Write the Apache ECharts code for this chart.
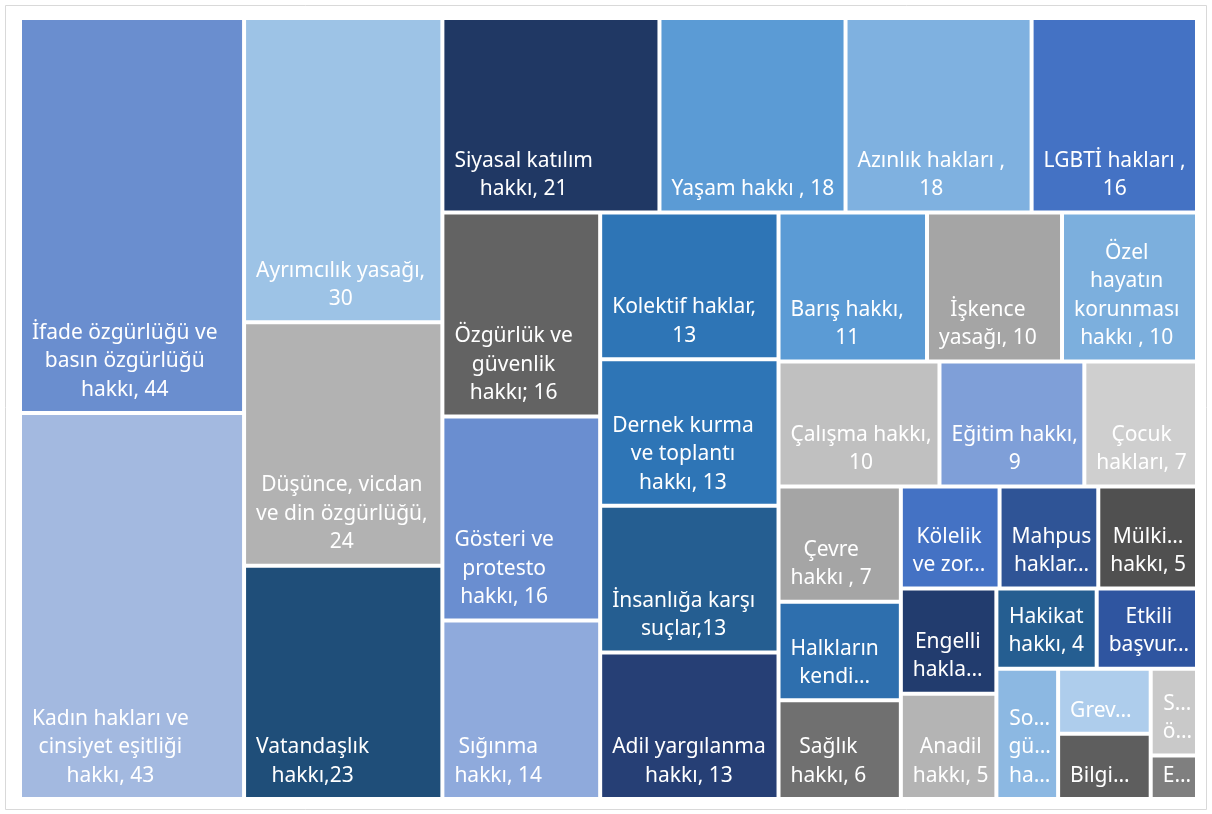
<!DOCTYPE html>
<html>
<head>
<meta charset="utf-8">
<script src="https://cdn.jsdelivr.net/npm/echarts@6/dist/echarts.min.js"></script>
<style>
  html, body { margin: 0; padding: 0; background: #fff; }
  #chart { width: 1212px; height: 814px; }
</style>
</head>
<body>
<div id="chart"></div>
<script>
// categories (full names), in the order the treemap lays them out
const names = [
  'İfade özgürlüğü ve basın özgürlüğü hakkı', 'Kadın hakları ve cinsiyet eşitliği hakkı',
  'Ayrımcılık yasağı', 'Düşünce, vicdan ve din özgürlüğü', 'Vatandaşlık hakkı',
  'Siyasal katılım hakkı', 'Yaşam hakkı', 'Azınlık hakları', 'LGBTİ hakları',
  'Özgürlük ve güvenlik hakkı', 'Gösteri ve protesto hakkı', 'Sığınma hakkı',
  'Kolektif haklar', 'Dernek kurma ve toplantı hakkı', 'İnsanlığa karşı suçlar', 'Adil yargılanma hakkı',
  'Barış hakkı', 'İşkence yasağı', 'Özel hayatın korunması hakkı',
  'Çalışma hakkı', 'Eğitim hakkı', 'Çocuk hakları',
  'Çevre hakkı', 'Halkların kendi kaderini tayin hakkı', 'Sağlık hakkı',
  'Kölelik ve zorla çalıştırma yasağı', 'Mahpus hakları', 'Mülkiyet hakkı',
  'Engelli hakları', 'Anadil hakkı', 'Hakikat hakkı', 'Etkili başvuru hakkı',
  'Sosyal güvenlik hakkı', 'Grev hakkı', 'Bilgi edinme hakkı', 'Seyahat özgürlüğü', 'Evlenme hakkı'
];

const values = [
  44, 43, 30, 24, 23, 21, 18, 18, 16, 16, 16, 14, 13, 13, 13, 13,
  11, 10, 10, 10, 9, 7, 7, 6, 6, 5, 5, 5, 5, 5, 4, 4, 4, 3, 3, 2, 1
];

// label text as it is shown in each box
const labels = [
  'İfade özgürlüğü ve\nbasın özgürlüğü\nhakkı, 44', 'Kadın hakları ve\ncinsiyet eşitliği\nhakkı, 43',
  'Ayrımcılık yasağı,\n30', 'Düşünce, vicdan\nve din özgürlüğü,\n24', 'Vatandaşlık\nhakkı,23',
  'Siyasal katılım\nhakkı, 21', 'Yaşam hakkı , 18', 'Azınlık hakları ,\n18', 'LGBTİ hakları ,\n16',
  'Özgürlük ve\ngüvenlik\nhakkı; 16', 'Gösteri ve\nprotesto\nhakkı, 16', 'Sığınma\nhakkı, 14',
  'Kolektif haklar,\n13', 'Dernek kurma\nve toplantı\nhakkı, 13', 'İnsanlığa karşı\nsuçlar,13', 'Adil yargılanma\nhakkı, 13',
  'Barış hakkı,\n11', 'İşkence\nyasağı, 10', 'Özel\nhayatın\nkorunması\nhakkı , 10',
  'Çalışma hakkı,\n10', 'Eğitim hakkı,\n9', 'Çocuk\nhakları, 7',
  'Çevre\nhakkı , 7', 'Halkların\nkendi…', 'Sağlık\nhakkı, 6',
  'Kölelik\nve zor…', 'Mahpus\nhaklar…', 'Mülki…\nhakkı, 5',
  'Engelli\nhakla…', 'Anadil\nhakkı, 5', 'Hakikat\nhakkı, 4', 'Etkili\nbaşvur…',
  'So…\ngü…\nha…', 'Grev…', 'Bilgi…', 'S…\nö…', 'E…'
];

const colors = [
  '#6a8ecf', '#a3b9e0', '#9dc3e6', '#b2b2b2', '#1f4e79',
  '#203864', '#5b9bd5', '#7fb1e0', '#4472c4',
  '#636363', '#6a8ed0', '#8faadc',
  '#2e75b6', '#2e75b6', '#255e91', '#263f75',
  '#5b9bd5', '#a5a5a5', '#7cafdd',
  '#c0c0c0', '#7f9fd8', '#cfcfcf',
  '#a5a5a5', '#2e6fae', '#707070',
  '#4472c4', '#2f5496', '#505050',
  '#223c6e', '#b4b4b4', '#255e91', '#2f55a0',
  '#8cb8e2', '#aecdec', '#5e5e5e', '#c9c9c9', '#7f7f7f'
];

const FONT_FAMILY = 'Noto Sans';
const FONT_SIZE = 21;

// measure the label block so lines can be centred inside a left-anchored block
const ctx = document.createElement('canvas').getContext('2d');
ctx.font = FONT_SIZE + 'px "' + FONT_FAMILY + '"';
function blockWidth(text) {
  return Math.max.apply(null, text.split('\n').map(function (l) { return ctx.measureText(l).width; }));
}

const data = names.map(function (name, i) {
  return {
    name: name,
    value: values[i],
    itemStyle: { color: colors[i] },
    label: { offset: [blockWidth(labels[i]) / 2 + 3, 0] }
  };
});

const chart = echarts.init(document.getElementById('chart'));

chart.setOption({
  animation: false,
  backgroundColor: '#fff',
  graphic: [
    {
      type: 'rect',
      z: -10,
      shape: { x: 5.5, y: 5.5, width: 1201, height: 804 },
      style: { fill: 'none', stroke: '#d9d9d9', lineWidth: 1 }
    }
  ],
  series: [
    {
      type: 'treemap',
      left: 22,
      top: 20,
      right: 17,
      bottom: 17,
      roam: false,
      nodeClick: false,
      sort: false,
      squareRatio: 0.92,
      visibleMin: 0,
      breadcrumb: { show: false },
      label: {
        show: true,
        position: 'insideBottomLeft',
        distance: 7,
        align: 'center',
        padding: 0,
        color: '#fff',
        fontFamily: FONT_FAMILY,
        fontSize: FONT_SIZE,
        lineHeight: 28.5,
        overflow: 'none',
        formatter: function (p) {
          const i = names.indexOf(p.name);
          return i >= 0 ? labels[i] : '';
        }
      },
      itemStyle: { borderWidth: 0, gapWidth: 4 },
      levels: [{ itemStyle: { borderWidth: 0, gapWidth: 4 } }],
      emphasis: { disabled: true },
      data: data
    }
  ]
});
</script>
</body>
</html>
